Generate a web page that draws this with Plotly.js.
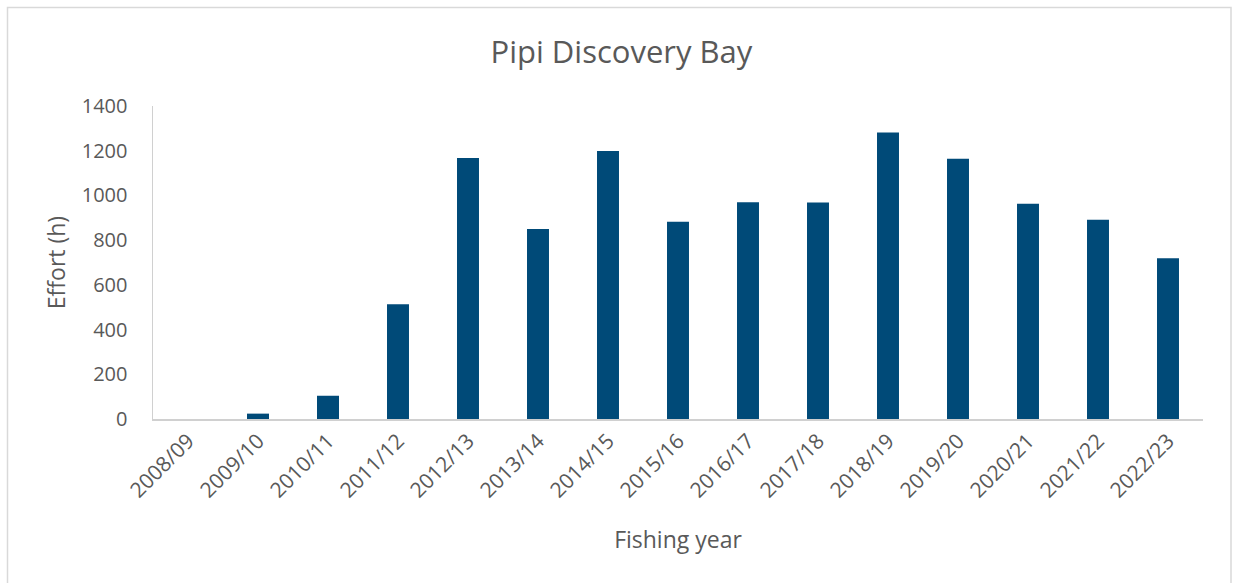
<!DOCTYPE html>
<html>
<head>
<meta charset="utf-8">
<script src="https://cdn.plot.ly/plotly-3.0.1.min.js"></script>
<style>html,body{margin:0;padding:0;background:#fff;}#chart{width:1233px;height:583px;}</style>
</head>
<body>
<div id="chart"></div>
<script>
const categories = ["2008/09","2009/10","2010/11","2011/12","2012/13","2013/14","2014/15","2015/16","2016/17","2017/18","2018/19","2019/20","2020/21","2021/22","2022/23"];
const effortHours = [0, 24, 104, 513, 1167, 850, 1199, 882, 970, 968, 1282, 1164, 963, 891, 719];
const chartTitle = "Pipi Discovery Bay";
const xTitle = "Fishing year";
const yTitle = "Effort (h)";

const L = 153, R = 30, T = 106, B = 164;
const W = 1233, H = 583;
const pw = W - L - R, ph = H - T - B;
const px = x => (x - L) / pw;
const py = y => (H - B - y) / ph;

const textColor = "#595959";
const font = "Open Sans, Liberation Sans, sans-serif";

Plotly.newPlot("chart", [{
  type: "bar",
  x: categories,
  y: effortHours,
  marker: {color: "#004A78", line: {width: 0}},
  hoverinfo: "x+y"
}], {
  width: W, height: H,
  margin: {l: L, r: R, t: T, b: B, pad: 0},
  paper_bgcolor: "#fff", plot_bgcolor: "#fff",
  bargap: 0.686,
  showlegend: false,
  font: {family: font, color: textColor, size: 20},
  title: {text: chartTitle, x: 0.504, xref: "container", xanchor: "center", y: 1 - 52 / H, yref: "container", yanchor: "middle", font: {size: 31, color: textColor, family: font}},
  xaxis: {
    type: "category",
    tickangle: -45,
    showline: true, linecolor: "#d0d0d0", linewidth: 1.5,
    ticks: "", showgrid: false, zeroline: false,
    tickfont: {size: 21, color: textColor},
    automargin: false,
    title: {text: xTitle, font: {size: 23, color: textColor}, standoff: 29}
  },
  yaxis: {
    range: [0, 1400], dtick: 200, tick0: 0,
    showline: true, linecolor: "#d0d0d0", linewidth: 1.5,
    ticks: "", showgrid: false, zeroline: false,
    tickfont: {size: 20, color: textColor},
    ticklabelstandoff: 20,
    automargin: false,
    title: {text: yTitle, font: {size: 23, color: textColor}, standoff: 9}
  },
  shapes: [{
    type: "rect", xref: "paper", yref: "paper",
    x0: px(7.5), x1: px(1231), y0: py(610), y1: py(7.5),
    line: {color: "#d9d9d9", width: 1.5}, fillcolor: "rgba(0,0,0,0)", layer: "below"
  }]
}, {displayModeBar: false, staticPlot: true});
</script>
</body>
</html>
